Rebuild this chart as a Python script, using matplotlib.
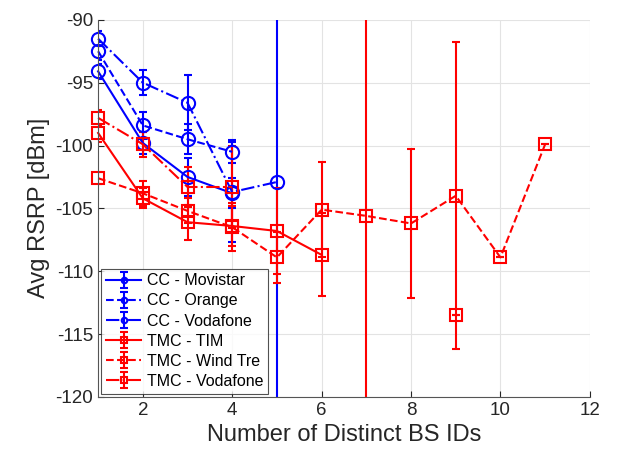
import numpy as np
import matplotlib.pyplot as plt
import matplotlib as mpl

mpl.rcParams['font.family'] = ['Liberation Sans', 'DejaVu Sans']
mpl.rcParams['axes.unicode_minus'] = False

nan = np.nan

# --- Data ---
x_cc = [1, 2, 3, 4, 5]
movistar = [-94.1, -99.8, -102.5, -103.8, nan]
movistar_err = [0.6, 0.9, 1.5, 1.2, nan]
orange = [-92.5, -98.4, -99.5, -100.5, nan]
orange_err = [0.7, 1.1, 1.2, 0.9, nan]
cc_vodafone = [-91.5, -95.0, -96.6, -103.7, -102.9]
cc_vodafone_err = [0.6, 1.0, 2.2, 4.0, 40.0]

x_tmc = [1, 2, 3, 4, 5, 6, 7, 8, 9, 10, 11]
tim = [-99.0, -104.2, -106.1, -106.4, -106.8, -108.7, nan, nan, -113.5, nan, nan]
tim_err = [0.7, 0.8, 1.4, 1.6, 3.4, 3.3, nan, nan, 0.0, nan, nan]
windtre = [-102.6, -103.8, -105.2, -106.5, -108.9, -105.1, -105.6, -106.2, -104.0, -108.9, -99.9]
windtre_err = [0.5, 1.0, 1.0, 1.9, 2.0, 3.8, 40.0, 5.9, 12.2, 0.0, 0.0]
tmc_vodafone = [-97.8, -99.9, -103.3, -103.3, nan, nan, nan, nan, nan, nan, nan]
tmc_vodafone_err = [0.6, 1.0, 1.6, 3.3, nan, nan, nan, nan, nan, nan, nan]

labels = ['CC - Movistar', 'CC - Orange', 'CC - Vodafone',
          'TMC - TIM', 'TMC - Wind Tre', 'TMC - Vodafone']

series = [
    (x_cc, movistar, movistar_err, 'o', '-', 'blue'),
    (x_cc, orange, orange_err, 'o', '--', 'blue'),
    (x_cc, cc_vodafone, cc_vodafone_err, 'o', '-.', 'blue'),
    (x_tmc, tim, tim_err, 's', '-', 'red'),
    (x_tmc, windtre, windtre_err, 's', '--', 'red'),
    (x_tmc, tmc_vodafone, tmc_vodafone_err, 's', '-.', 'red'),
]

fig = plt.figure(figsize=(6.17, 4.61), dpi=100)
ax = fig.add_axes([0.159, 0.139, 0.797, 0.818])

handles = []
for (xs, ys, es, mk, ls, col), lab in zip(series, labels):
    ms = 9.5 if mk == 'o' else 8.5
    cont = ax.errorbar(xs, ys, yerr=es, marker=mk, linestyle=ls, color=col,
                       ms=ms, mfc='none', mew=1.5, lw=1.5, elinewidth=1.5,
                       capsize=3, capthick=1.5)
    # markers at x=1 are drawn whole, like the original
    cont[0].set_clip_on(False)
    # small-marker proxy for the legend
    h = ax.errorbar([nan], [nan], yerr=[1], marker=mk, linestyle=ls,
                    color=col, ms=4, mfc='none', mew=1.5, lw=1.5,
                    elinewidth=1.5, capsize=3, capthick=1.5)
    handles.append(h)

ax.set_xlim(1, 12)
ax.set_ylim(-120, -90)
ax.set_xticks([2, 4, 6, 8, 10, 12])
ax.set_yticks(np.arange(-120, -89, 5))
ax.grid(True, color='#e3e3e3', lw=0.8)
ax.set_axisbelow(True)
for s in ['top', 'right']:
    ax.spines[s].set_visible(False)
for s in ['left', 'bottom']:
    ax.spines[s].set_color('#555555')
ax.tick_params(direction='in', length=4, labelsize=13.5, colors='#262626')

ax.set_xlabel('Number of Distinct BS IDs', fontsize=17, color='#262626')
ax.set_ylabel('Avg RSRP [dBm]', fontsize=17, color='#262626')

leg = ax.legend(handles, labels, loc='lower left', fontsize=11.5,
                frameon=True, fancybox=False, edgecolor='#262626',
                borderaxespad=0.2, handlelength=2.2, handletextpad=0.35,
                labelspacing=0.32, borderpad=0.3)
leg.get_frame().set_linewidth(0.8)

fig.savefig('out.png', dpi=100)
